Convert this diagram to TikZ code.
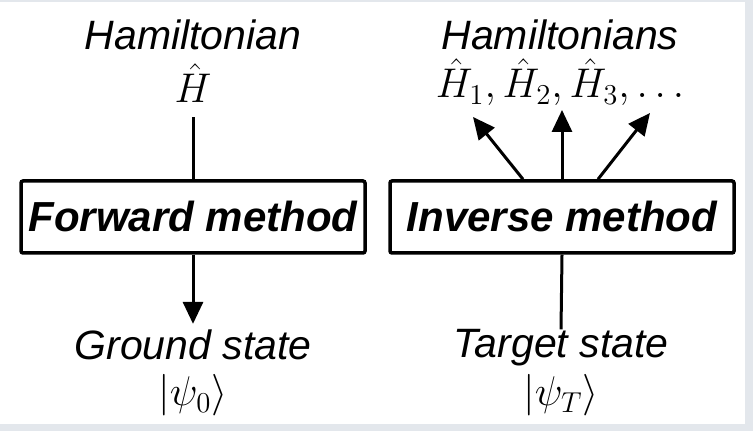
\documentclass[tikz,border=0pt]{standalone}
\usepackage{fontspec}
\setmainfont{Liberation Sans}
\usetikzlibrary{arrows.meta}
\definecolor{pageedge}{HTML}{E3E7EC}

\begin{document}
\begin{tikzpicture}[x=0.5pt,y=0.5pt,
label/.style={font=\fontsize{20.5}{24}\selectfont\itshape,inner sep=0pt,anchor=base},
formula/.style={label,font=\fontsize{22}{26}\selectfont},
method/.style={draw,line width=1.75pt,rounded corners=1pt,minimum width=172pt,minimum height=36pt,
 font=\fontsize{21}{25}\selectfont\bfseries\itshape},
link/.style={line width=1.5pt},
arrow/.style={link,-{Triangle[length=11pt,width=10pt]}}]
% page background with grey edge
\fill[pageedge] (0,0) rectangle (753,431);
\fill[white] (0,7) rectangle (745,429);
% forward side
\node[label] (ham) at (193,381) {Hamiltonian};
\node[formula] (hhat) at (193,328) {$\hat{H}$};
\node[method] (fwd) at (193,214) {Forward method};
\node[label] (gs) at (193,71) {Ground state};
\node[formula] (psi0) at (193,25) {$|\psi_0\rangle$};
\draw[link,shorten <=7pt] (hhat.south)--(fwd.north);
\draw[arrow,shorten >=3pt] (fwd.south)--(gs.north);
% inverse side
\node[label] (hams) at (560,381) {Hamiltonians};
\node[formula] (hlist) at (560,333) {$\hat{H}_1,\hat{H}_2,\hat{H}_3,\dots$};
\node[method] (inv) at (562,214) {Inverse method};
\node[label] (ts) at (561,73) {Target state};
\node[formula] (psiT) at (561,25) {$|\psi_T\rangle$};
\draw[arrow] ([xshift=-19.5pt]inv.north)--([xshift=-43.5pt,yshift=-5.25pt]hlist.south);
\draw[arrow] (inv.north)--([xshift=1pt,yshift=-1.75pt]hlist.south);
\draw[arrow] ([xshift=18pt]inv.north)--([xshift=45pt,yshift=-3.25pt]hlist.south);
\draw[link] (inv.south)--(ts.north);
\end{tikzpicture}
\end{document}
